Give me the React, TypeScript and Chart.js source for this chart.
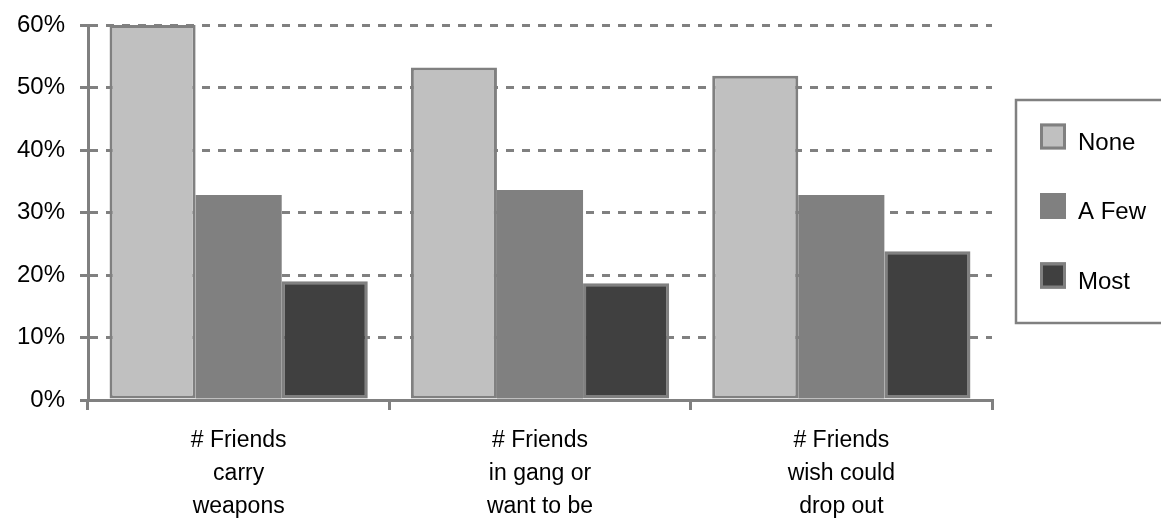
import React, { useEffect, useRef } from "react";
import { Chart, registerables } from "chart.js";

Chart.register(...registerables);

// Survey categories (multi-line axis labels)
const categories: string[][] = [
  ["# Friends", "carry", "weapons"],
  ["# Friends", "in gang or", "want to be"],
  ["# Friends", "wish could", "drop out"],
];

// Series names and values (percent)
const seriesNames = ["None", "A Few", "Most"];
const noneValues = [60.0, 53.2, 51.9];
const aFewValues = [32.8, 33.6, 32.8];
const mostValues = [19.0, 18.7, 23.8];

// Y axis range and step (percent)
const yMin = 0;
const yMax = 60;
const yStep = 10;

const FONT = "'Liberation Sans', Arial, sans-serif";
const GRAY = "#808080";

const fills = ["#c0c0c0", "#808080", "#404040"];
const borders = ["#808080", "#808080", "#808080"];
const borderWidths = [3, 0, 3];

// Boxed legend on the right side of the plot
const boxedLegend = {
  id: "boxedLegend",
  afterDraw(chart: Chart) {
    const { ctx } = chart;
    const area = chart.chartArea;
    const boxLeft = area.right + 24;
    const boxTop = 100;
    const boxHeight = 223;
    ctx.save();
    ctx.lineWidth = 2.5;
    ctx.strokeStyle = GRAY;
    ctx.strokeRect(boxLeft, boxTop, chart.width - boxLeft + 10, boxHeight);
    ctx.font = `24px ${FONT}`;
    ctx.textBaseline = "alphabetic";
    ctx.textAlign = "left";
    chart.data.datasets.forEach((ds: any, i: number) => {
      const cy = boxTop + 36.5 + i * 69.5;
      const sx = boxLeft + 24;
      const size = 26;
      ctx.fillStyle = ds.backgroundColor;
      ctx.fillRect(sx, cy - size / 2, size, size);
      ctx.lineWidth = 3;
      ctx.strokeStyle = GRAY;
      ctx.strokeRect(sx + 1.5, cy - size / 2 + 1.5, size - 3, size - 3);
      ctx.fillStyle = "#000";
      ctx.fillText(ds.label, boxLeft + 62, cy + 13);
    });
    ctx.restore();
  },
};

export default function App() {
  const canvasRef = useRef<HTMLCanvasElement | null>(null);

  useEffect(() => {
    if (!canvasRef.current) return;
    const values = [noneValues, aFewValues, mostValues];
    const chart = new Chart(canvasRef.current, {
      type: "bar",
      data: {
        labels: categories,
        datasets: seriesNames.map((name, i) => ({
          label: name,
          data: values[i],
          backgroundColor: fills[i],
          borderColor: borders[i],
          borderWidth: borderWidths[i],
          borderSkipped: false,
          categoryPercentage: 0.857,
          barPercentage: 1,
        })),
      },
      options: {
        animation: false,
        responsive: true,
        maintainAspectRatio: false,
        layout: { padding: { top: 25, right: 169, left: 0, bottom: 0 } },
        plugins: {
          legend: { display: false },
          tooltip: { enabled: false },
        },
        scales: {
          x: {
            type: "category",
            offset: true,
            grid: {
              display: true,
              offset: true,
              drawOnChartArea: false,
              drawTicks: true,
              tickLength: 10,
              color: GRAY,
              lineWidth: 3,
            },
            border: { display: true, color: GRAY, width: 3 },
            ticks: {
              color: "#000",
              font: { family: FONT, size: 23, lineHeight: 33 / 23 },
              padding: 14,
              maxRotation: 0,
              autoSkip: false,
            },
            afterFit: (scale: any) => {
              scale.height = 121;
            },
          },
          y: {
            min: yMin,
            max: yMax,
            grid: {
              color: GRAY,
              lineWidth: 3,
              drawTicks: true,
              tickLength: 8,
              tickBorderDash: [],
            },
            border: { display: true, color: GRAY, width: 3, dash: [8, 8] },
            ticks: {
              stepSize: yStep,
              color: "#000",
              font: { family: FONT, size: 24 },
              padding: 15,
              callback: (v: any) => `${v}%`,
            },
            afterFit: (scale: any) => {
              scale.width = 88;
              scale.paddingTop = 0;
              scale.paddingBottom = 0;
            },
          },
        },
      },
      plugins: [boxedLegend],
    });
    return () => chart.destroy();
  }, []);

  return (
    <div style={{ position: "fixed", left: 0, top: 0, width: 1161, height: 521, background: "#fff" }}>
      <canvas ref={canvasRef} />
    </div>
  );
}
